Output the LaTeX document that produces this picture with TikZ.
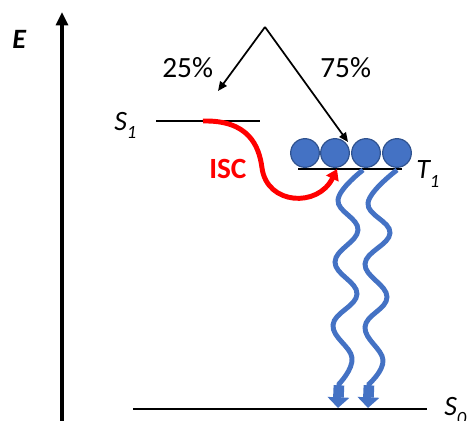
\documentclass[tikz,border=0pt]{standalone}
\usepackage{fontspec}
\setmainfont{Carlito}
\usetikzlibrary{arrows.meta}
\def\wLevel{1.6pt}
\def\wFlow{3.7pt}
\definecolor{cTrip}{HTML}{4472C4}
\definecolor{cTripEdge}{HTML}{2F528F}
\definecolor{cIsc}{HTML}{FF0000}
\tikzset{
  lbl/.style={font=\fontsize{22}{26}\selectfont, inner sep=0pt, anchor=base west},
  state/.style={lbl, font=\fontsize{21}{26}\selectfont\itshape},
  ename/.style={lbl, font=\fontsize{21}{26}\selectfont\bfseries\itshape},
  isclbl/.style={lbl, font=\fontsize{22}{26}\selectfont\bfseries, text=cIsc},
  level/.style={draw=black, line width=\wLevel},
  axis/.style={draw=black, line width=2.3pt, -{Triangle[length=10pt, width=9pt]}},
  exciton/.style={circle, draw=cTripEdge, line width=0.9pt, fill=cTrip, minimum size=21.5pt, inner sep=0pt},
  split/.style={draw=black, line width=1.3pt, -{Triangle[length=7pt, width=6pt]}},
  isc/.style={draw=cIsc, line width=\wFlow, -{Triangle[length=8pt, width=10pt]}},
  decay/.style={draw=cTrip, line width=\wFlow, -{Rectangle[length=9pt, width=8pt] Triangle[length=8pt, width=16pt]}},
}
\newcommand{\lsub}[1]{\raisebox{-6.5pt}{\fontsize{14}{14}\selectfont #1}}

\begin{document}
\begin{tikzpicture}[x=0.75pt, y=-0.75pt]
% pixel grid of the reference, y pointing down
\useasboundingbox (0,0) rectangle (469,421);

% energy axis
\coordinate (axb) at (62,430);
\coordinate (axt) at (62,12);
\draw[axis] (axb) -- (axt);
\node[ename] (E) at (12,48) {E};

% levels
\coordinate (s1l) at (156,121); \coordinate (s1r) at (260,121);
\coordinate (t1l) at (298,169); \coordinate (t1r) at (402,169);
\coordinate (s0l) at (133,409); \coordinate (s0r) at (427,409);
\draw[level] (s1l) -- (s1r);
\draw[level] (t1l) -- (t1r);
\draw[level] (s0l) -- (s0r);
\node[state] (S1) at (114,130) {S\lsub{1}};
\node[state] (T1) at (416,179) {T\lsub{1}};
\node[state] (S0) at (444,416) {S\lsub{0}};

% triplet excitons sitting on T1
\node[exciton] (c1) at (305,153) {};
\node[exciton] (c2) at (335,153) {};
\node[exciton] (c3) at (366,153) {};
\node[exciton] (c4) at (397,153) {};

% spin statistics: 25% singlets, 75% triplets
\coordinate (top) at (265,27);
\coordinate (s1in) at (218,91);
\coordinate (t1in) at (348,142);
\draw[split] (top) -- (s1in);
\draw[split] (top) -- (t1in);
\node[lbl] (p25) at (162,78) {25\%};
\node[lbl] (p75) at (320,78) {75\%};

% intersystem crossing S1 -> T1
\coordinate (iscs) at (203,121);
\coordinate (isce) at (337,169);
\draw[isc] (iscs) .. controls (248,120) and (259,145) .. (262,168)
  .. controls (267,205) and (318,208) .. (isce);
\node[isclbl] (ISC) at (209,179) {ISC};

% non-radiative decay T1 -> S0
\coordinate (w1s) at (363,170); \coordinate (w1e) at (338,408);
\coordinate (w2s) at (397,170); \coordinate (w2e) at (368,408);
\draw[decay] plot[smooth, tension=0.7] coordinates {(w1s) (338,200) (358,230) (335,262) (357,294) (333,325) (352,358) (339,384)} -- (w1e);
\draw[decay] plot[smooth, tension=0.7] coordinates {(w2s) (368,203) (390,233) (365,264) (387,297) (365,327) (383,360) (369,384)} -- (w2e);
\end{tikzpicture}
\end{document}
